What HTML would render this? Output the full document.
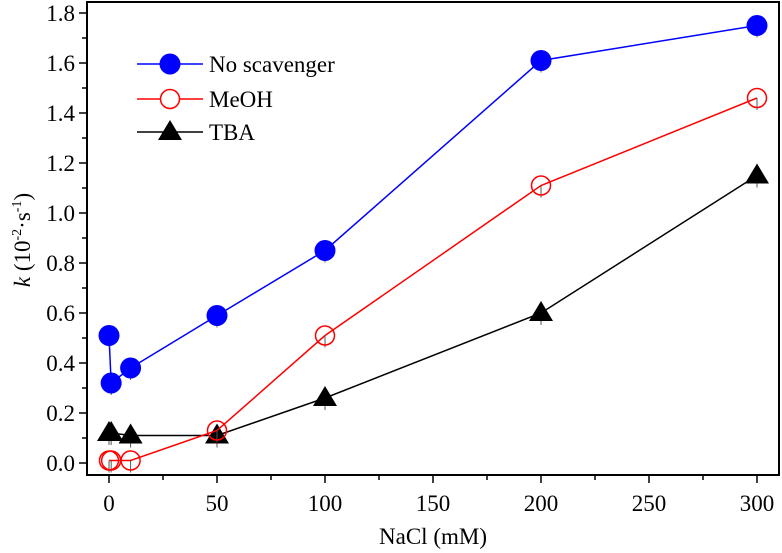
<!DOCTYPE html>
<html><head><meta charset="utf-8"><style>
body{margin:0;background:#fff}
svg{display:block;font-family:"Liberation Serif",serif}
</style></head><body>
<svg id="c" width="782" height="553"></svg>
<script>
const xTicks=[0,50,100,150,200,250,300];
const yTicks=[0.0,0.2,0.4,0.6,0.8,1.0,1.2,1.4,1.6,1.8];
const xNo=[0,1,10,50,100,200,300];
const yNo=[0.51,0.32,0.38,0.59,0.85,1.61,1.75];
const xMe=[0,1,10,50,100,200,300];
const yMe=[0.01,0.01,0.01,0.13,0.51,1.11,1.46];
const xTb=[0,1,10,50,100,200,300];
const yTb=[0.12,0.12,0.11,0.11,0.26,0.60,1.15];
const L=87,R=779,T=2,B=475;
const X=v=>109+v*2.16, Y=v=>463-v*250;
const s=document.getElementById('c');const NS='http://www.w3.org/2000/svg';
function el(t,a,txt){const e=document.createElementNS(NS,t);for(const k in a)e.setAttribute(k,a[k]);if(txt!=null)e.textContent=txt;s.appendChild(e);return e;}
let e;
e=el('rect',{x:L,y:T,width:R-L,height:B-T,fill:'none',stroke:'#000','stroke-width':2});

for(let v=0;v<=300;v+=25){const big=v%50==0;e=el('line',{x1:X(v),x2:X(v),y1:B,y2:B+(big?8:5),stroke:'#000','stroke-width':1.5});
}
xTicks.forEach(v=>{e=el('text',{x:X(v),y:511,'font-size':23,'text-anchor':'middle'},String(v));
});
for(let i=0;i<=18;i++){const v=i*0.1;const big=i%2==0;e=el('line',{x1:L,x2:L-(big?8:5),y1:Y(v),y2:Y(v),stroke:'#000','stroke-width':1.5});
}
yTicks.forEach(v=>{e=el('text',{x:L-12,y:Y(v)+8,'font-size':23,'text-anchor':'end'},v.toFixed(1));
});
e=el('text',{x:433,y:544,'font-size':23,'text-anchor':'middle'},'NaCl (mM)');

e=el('text',{transform:'translate(30,240) rotate(-90)','font-size':23,'text-anchor':'middle'});
e.innerHTML='<tspan font-style="italic">k</tspan> (10<tspan font-size="14" dy="-9">-2</tspan><tspan dy="9">·s</tspan><tspan font-size="14" dy="-9">-1</tspan><tspan dy="9">)</tspan>';

function series(xs,ys,color,kind,name){
 e=el('polyline',{points:xs.map((x,i)=>X(x)+','+Y(ys[i])).join(' '),fill:'none',stroke:color,'stroke-width':1.5});
 
 xs.forEach((x,i)=>{
  e=el('line',{x1:X(x),x2:X(x),y1:Y(ys[i]),y2:Y(ys[i])+12,stroke:'#555','stroke-width':1});
  
  marker(X(x),Y(ys[i]),color,kind,name);});
}
function marker(cx,cy,color,kind,name){
 if(kind=='fill')e=el('circle',{cx,cy,r:10.5,fill:color});
 else if(kind=='open')e=el('circle',{cx,cy,r:9.5,fill:'none',stroke:color,'stroke-width':1.5});
 else e=el('polygon',{points:`${cx},${cy-12} ${cx+12},${cy+8} ${cx-12},${cy+8}`,fill:'#000'});
 
}
series(xNo,yNo,'#0000ff','fill','no-scavenger');
series(xTb,yTb,'#000','tri','tba');
series(xMe,yMe,'#ff0000','open','meoh');
const leg=[['No scavenger','#0000ff','fill',64],['MeOH','#ff0000','open',99],['TBA','#000','tri',132]];
leg.forEach(([t,c,k,y])=>{
 e=el('line',{x1:137,x2:203,y1:y,y2:y,stroke:c,'stroke-width':1.5});
 
 if(k=='open'){e=el('circle',{cx:170,cy:y,r:9.5,fill:'#fff'});}
 marker(170,y,c,k,'legend');
 e=el('text',{x:209,y:y+8,'font-size':23},t);
 
});
</script>
</body></html>
